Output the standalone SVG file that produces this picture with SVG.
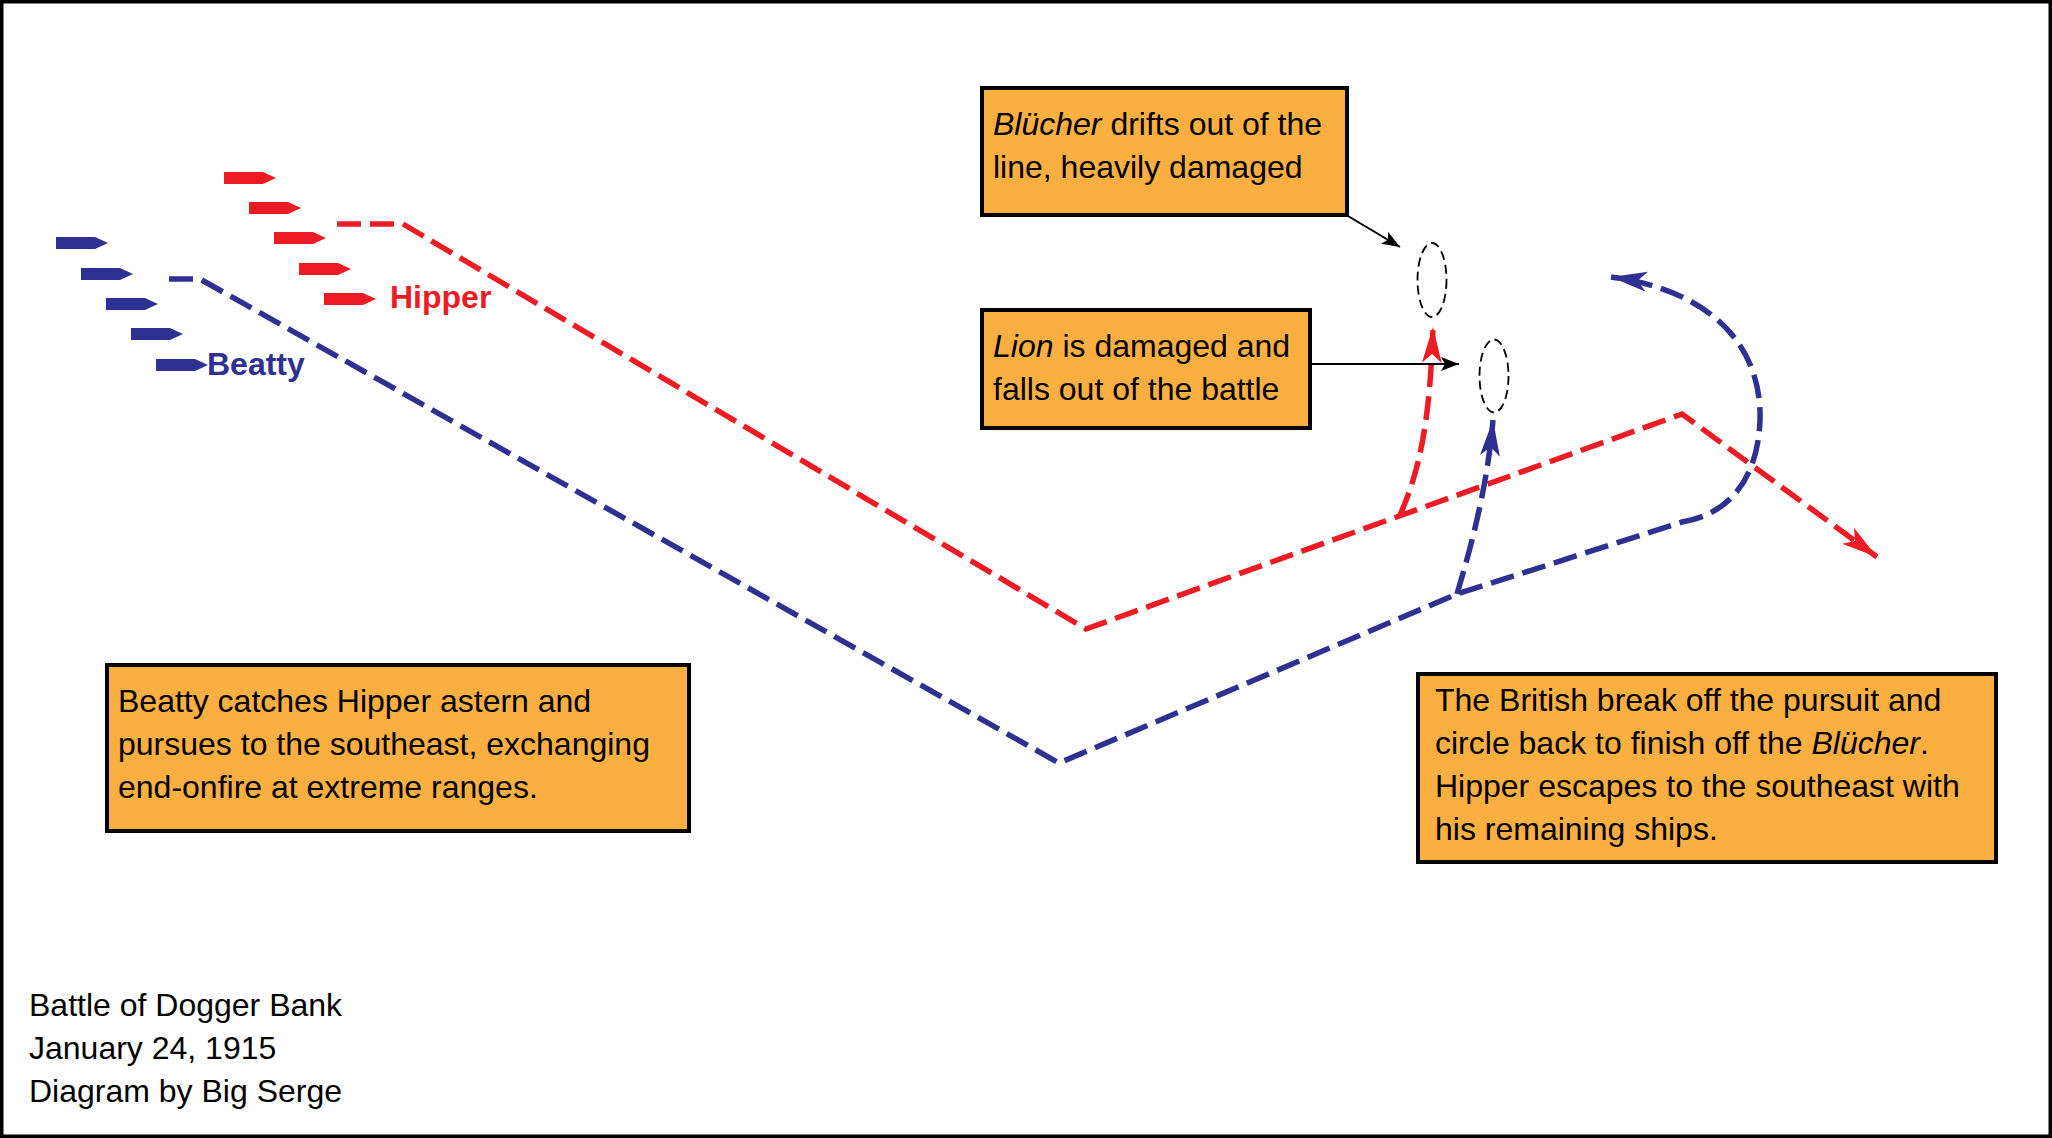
<svg xmlns="http://www.w3.org/2000/svg" width="2052" height="1138" viewBox="0 0 2052 1138">
  <style>
    .box { fill: #FAAF40; stroke: #000; stroke-width: 4; }
    .txt { font-family: "Liberation Sans", Arial, sans-serif; font-size: 32px; fill: #000; }
    .lbl { font-family: "Liberation Sans", Arial, sans-serif; font-size: 32px; font-weight: bold; }
    .red { stroke: #ED1C24; }
    .blue { stroke: #2E3192; }
    .route { fill: none; stroke-width: 5.5; stroke-dasharray: 24 9; }
    .ptr { fill: none; stroke: #000; stroke-width: 2; }
    .wreck { fill: none; stroke: #000; stroke-width: 1.8; stroke-dasharray: 9 5; }
  </style>
  <defs>
    <path id="ship" d="M0,-6 H39 L52,0 L39,6 H0 Z"/>
    <marker id="ahRed" markerUnits="userSpaceOnUse" markerWidth="40" markerHeight="24" refX="36" refY="10" orient="auto">
      <path d="M0,0 L36,10 L0,20 L9,10 Z" fill="#ED1C24"/>
    </marker>
    <marker id="ahBlue" markerUnits="userSpaceOnUse" markerWidth="40" markerHeight="24" refX="36" refY="10" orient="auto">
      <path d="M0,0 L36,10 L0,20 L9,10 Z" fill="#2E3192"/>
    </marker>
    <marker id="ahBlack" markerUnits="userSpaceOnUse" markerWidth="22" markerHeight="16" refX="18" refY="7" orient="auto">
      <path d="M0,0 L18,7 L0,14 L4,7 Z" fill="#000"/>
    </marker>
  </defs>

  <rect x="1.75" y="1.75" width="2048.5" height="1134.5" fill="#fff" stroke="#000" stroke-width="3.5"/>

  <g id="connectors">
    <path class="route red" d="M337,224 H403 L1086,629 L1682,414 L1877,557" marker-end="url(#ahRed)"/>
    <path class="route blue" d="M169,279 H200 L1059,763 L1457,594 L1682,522 C1730,514 1758,478 1760,420 C1762,345 1710,290 1611,277" marker-end="url(#ahBlue)"/>
    <path class="route red" d="M1400,515 C1420,470 1430,420 1433,327" marker-end="url(#ahRed)"/>
    <path class="route blue" d="M1457,594 C1470,550 1487,490 1493,420" marker-end="url(#ahBlue)"/>
    <line class="ptr" x1="1348" y1="216" x2="1400" y2="247" marker-end="url(#ahBlack)"/>
    <line class="ptr" x1="1311" y1="364" x2="1459" y2="364" marker-end="url(#ahBlack)"/>
  </g>

  <g id="hipper" fill="#ED1C24">
    <use href="#ship" x="224" y="178"/>
    <use href="#ship" x="249" y="208"/>
    <use href="#ship" x="274" y="238"/>
    <use href="#ship" x="299" y="269"/>
    <use href="#ship" x="324" y="299"/>
    <text class="lbl" x="390" y="308" fill="#ED1C24">Hipper</text>
  </g>

  <g id="beatty" fill="#2E3192">
    <use href="#ship" x="56" y="243"/>
    <use href="#ship" x="81" y="274"/>
    <use href="#ship" x="106" y="304"/>
    <use href="#ship" x="131" y="334"/>
    <use href="#ship" x="156" y="365"/>
    <text class="lbl" x="207" y="375" fill="#2E3192">Beatty</text>
  </g>

  <g id="blucher-wreck">
    <ellipse class="wreck" cx="1432" cy="280" rx="14.5" ry="37"/>
  </g>
  <g id="lion-wreck">
    <ellipse class="wreck" cx="1494" cy="376" rx="14.5" ry="36.5"/>
  </g>

  <g id="note-blucher">
    <rect class="box" x="982" y="88" width="365" height="127"/>
    <text class="txt" x="993" y="135"><tspan font-style="italic">Blücher</tspan> drifts out of the</text>
    <text class="txt" x="993" y="178">line, heavily damaged</text>
  </g>

  <g id="note-lion">
    <rect class="box" x="982" y="310" width="328" height="118"/>
    <text class="txt" x="993" y="357"><tspan font-style="italic">Lion</tspan> is damaged and</text>
    <text class="txt" x="993" y="400">falls out of the battle</text>
  </g>

  <g id="note-pursuit">
    <rect class="box" x="107" y="665" width="582" height="166"/>
    <text class="txt" x="118" y="712">Beatty catches Hipper astern and</text>
    <text class="txt" x="118" y="755">pursues to the southeast, exchanging</text>
    <text class="txt" x="118" y="798">end-onfire at extreme ranges.</text>
  </g>

  <g id="note-british">
    <rect class="box" x="1418" y="674" width="578" height="188"/>
    <text class="txt" x="1435" y="711">The British break off the pursuit and</text>
    <text class="txt" x="1435" y="754">circle back to finish off the <tspan font-style="italic">Blücher</tspan>.</text>
    <text class="txt" x="1435" y="797">Hipper escapes to the southeast with</text>
    <text class="txt" x="1435" y="840">his remaining ships.</text>
  </g>

  <g id="caption">
    <text class="txt" x="29" y="1016">Battle of Dogger Bank</text>
    <text class="txt" x="29" y="1059">January 24, 1915</text>
    <text class="txt" x="29" y="1102">Diagram by Big Serge</text>
  </g>
</svg>
